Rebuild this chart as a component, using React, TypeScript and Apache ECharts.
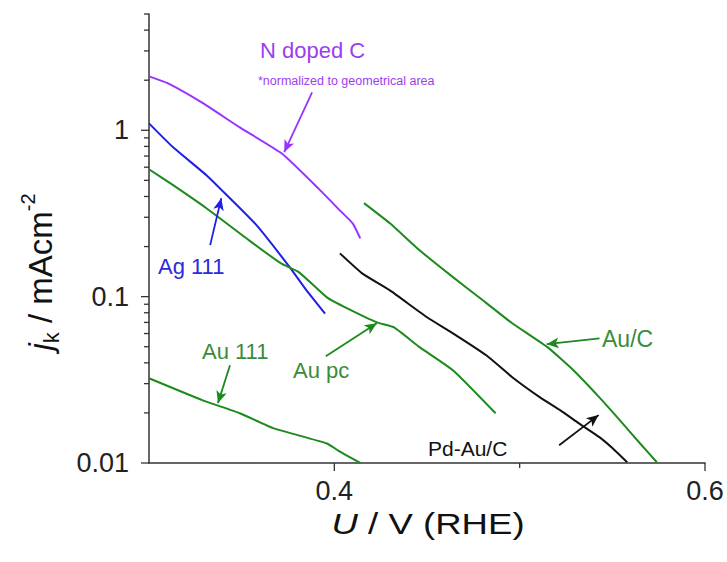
import React, { useEffect, useRef } from "react";
import * as echarts from "echarts";

// ---- axis ranges and ticks ----
const X_MIN = 0.3;
const X_MAX = 0.6;
const X_INTERVAL = 0.1;
const X_MAJOR_TICKS = [0.4, 0.6];
const X_TICK_LABELS = ["0.4", "0.6"];
const X_MINOR_TICKS = [0.5];

const Y_MIN = 0.01;
const Y_MAX = 5;
const Y_MAJOR_TICKS = [0.01, 0.1, 1];
const Y_TICK_LABELS = ["0.01", "0.1", "1"];
const Y_MINOR_TICKS = [
  0.02, 0.03, 0.04, 0.05, 0.06, 0.07, 0.08, 0.09,
  0.2, 0.3, 0.4, 0.5, 0.6, 0.7, 0.8, 0.9,
  2, 3, 4, 5,
];

// ---- series (U / V vs RHE, jk / mA cm^-2) ----
const N_DOPED_C_U = [0.3, 0.31, 0.328, 0.349, 0.372, 0.392, 0.403, 0.41, 0.414];
const N_DOPED_C_J = [2.11, 1.92, 1.48, 1.04, 0.72, 0.44, 0.33, 0.275, 0.224];

const AG111_U = [0.3, 0.313, 0.331, 0.342, 0.358, 0.376, 0.385, 0.395];
const AG111_J = [1.1, 0.79, 0.537, 0.407, 0.269, 0.15, 0.109, 0.079];

const AUPC_U = [0.3, 0.313, 0.331, 0.354, 0.371, 0.381, 0.396, 0.407, 0.423, 0.432, 0.446, 0.464, 0.487];
const AUPC_J = [0.583, 0.468, 0.34, 0.218, 0.159, 0.14, 0.099, 0.085, 0.07, 0.0655, 0.0497, 0.0361, 0.0199];

const AU111_U = [0.3, 0.329, 0.349, 0.367, 0.396, 0.403, 0.414];
const AU111_J = [0.0323, 0.0238, 0.0199, 0.0162, 0.0131, 0.0117, 0.01];

const PDAUC_U = [0.403, 0.415, 0.43, 0.45, 0.464, 0.482, 0.496, 0.511, 0.522, 0.532, 0.543, 0.55, 0.558];
const PDAUC_J = [0.182, 0.138, 0.109, 0.0752, 0.0602, 0.0444, 0.0328, 0.0248, 0.0207, 0.0173, 0.0143, 0.0123, 0.0101];

const AUC_U = [0.416, 0.43, 0.446, 0.464, 0.478, 0.496, 0.515, 0.529, 0.543, 0.554, 0.565, 0.574];
const AUC_J = [0.365, 0.276, 0.19, 0.131, 0.0992, 0.0692, 0.0497, 0.0361, 0.0248, 0.0181, 0.0131, 0.0101];

// ---- annotation arrows: [start, tip] in data coordinates ----
const ARROW_N_DOPED_C = [[0.388, 1.69], [0.373, 0.74]];
const ARROW_AG111 = [[0.333, 0.204], [0.339, 0.39]];
const ARROW_AU111 = [[0.3437, 0.0387], [0.3372, 0.0229]];
const ARROW_AUPC = [[0.3954, 0.0438], [0.4229, 0.0692]];
const ARROW_AUC = [[0.5431, 0.0562], [0.5146, 0.0518]];
const ARROW_PDAUC = [[0.5213, 0.01277], [0.5426, 0.0194]];

// ---- styles ----
const FONT = "'Liberation Sans', Arial, sans-serif";
const PURPLE = "#9933ff";
const PURPLE_TEXT = "#9a3ef0";
const BLUE = "#1f1fe6";
const BLUE_TEXT = "#2b2bd9";
const GREEN = "#1d8a1d";
const GREEN_TEXT = "#3a8c3a";
const BLACK = "#111111";
const AXIS = "#333333";

const zip = (u: number[], j: number[]) => u.map((v, i) => [v, j[i]]);

const near = (a: number, b: number, log: boolean) =>
  log ? Math.abs(Math.log10(a) - Math.log10(b)) < 1e-6 : Math.abs(a - b) < 1e-6;

function arrow(color: string, pts: number[][]) {
  return {
    silent: true,
    symbol: ["none", "arrow"],
    symbolSize: [8, 12],
    label: { show: false },
    emphasis: { disabled: true },
    lineStyle: { color, width: 1.8, type: "solid" },
    data: [[{ coord: pts[0] }, { coord: pts[1] }]],
  };
}

function curve(name: string, color: string, data: number[][], arr: number[][]) {
  return {
    name,
    type: "line",
    data,
    showSymbol: false,
    smooth: 0.15,
    lineStyle: { color, width: 2 },
    itemStyle: { color },
    emphasis: { disabled: true },
    silent: true,
    z: 3,
    markLine: arrow(color, arr),
  };
}

function label(text: string, x: number, y: number, fill: string, size: number) {
  return {
    type: "text",
    x,
    y,
    silent: true,
    style: {
      text,
      fill,
      font: `${size}px ${FONT}`,
      align: "left",
      verticalAlign: "middle",
    },
  };
}

export default function App() {
  const ref = useRef<HTMLDivElement>(null);

  useEffect(() => {
    if (!ref.current) return;
    const chart = echarts.init(ref.current, null, { renderer: "svg" });

    const option: any = {
      animation: false,
      backgroundColor: "#ffffff",
      grid: { left: 149, right: 22, top: 14, bottom: 99, containLabel: false },
      xAxis: {
        type: "value",
        min: X_MIN,
        max: X_MAX,
        interval: X_INTERVAL,
        axisLine: { show: true, lineStyle: { color: AXIS, width: 1.5 } },
        axisTick: { show: false },
        splitLine: { show: false },
        axisLabel: {
          margin: 14,
          color: "#222",
          fontSize: 27,
          fontFamily: FONT,
          formatter: (v: number) => {
            const i = X_MAJOR_TICKS.findIndex((t) => near(v, t, false));
            return i >= 0 ? X_TICK_LABELS[i] : "";
          },
        },
      },
      yAxis: {
        type: "log",
        logBase: 10,
        min: Y_MIN,
        max: Y_MAX,
        axisLine: { show: true, lineStyle: { color: AXIS, width: 1.5 } },
        axisTick: { show: false },
        splitLine: { show: false },
        minorTick: { show: false },
        axisLabel: {
          margin: 20,
          color: "#222",
          fontSize: 27,
          fontFamily: FONT,
          showMaxLabel: false,
          formatter: (v: number) => {
            const i = Y_MAJOR_TICKS.findIndex((t) => near(v, t, true));
            return i >= 0 ? Y_TICK_LABELS[i] : "";
          },
        },
      },
      series: [
        {
          type: "custom",
          coordinateSystem: "cartesian2d",
          silent: true,
          clip: false,
          z: 2,
          data: [
            ...Y_MAJOR_TICKS.map((v) => [X_MIN, v, 1, 0]),
            ...Y_MINOR_TICKS.map((v) => [X_MIN, v, 0, 0]),
            ...X_MAJOR_TICKS.map((v) => [v, Y_MIN, 1, 1]),
            ...X_MINOR_TICKS.map((v) => [v, Y_MIN, 0, 1]),
          ],
          renderItem: (_p: any, api: any) => {
            const pt = api.coord([api.value(0), api.value(1)]);
            const major = api.value(2) === 1;
            const isX = api.value(3) === 1;
            const len = major ? 8 : 5;
            const shape = isX
              ? { x1: pt[0], y1: pt[1], x2: pt[0], y2: pt[1] + len }
              : { x1: pt[0] - len, y1: pt[1], x2: pt[0], y2: pt[1] };
            return {
              type: "line",
              shape,
              style: { stroke: AXIS, lineWidth: 1.3 },
            };
          },
        },
        curve("N doped C", PURPLE, zip(N_DOPED_C_U, N_DOPED_C_J), ARROW_N_DOPED_C),
        curve("Ag 111", BLUE, zip(AG111_U, AG111_J), ARROW_AG111),
        curve("Au pc", GREEN, zip(AUPC_U, AUPC_J), ARROW_AUPC),
        curve("Au 111", GREEN, zip(AU111_U, AU111_J), ARROW_AU111),
        curve("Pd-Au/C", BLACK, zip(PDAUC_U, PDAUC_J), ARROW_PDAUC),
        curve("Au/C", GREEN, zip(AUC_U, AUC_J), ARROW_AUC),
      ],
      graphic: [
        label("N doped C", 260, 50, PURPLE_TEXT, 22),
        label("*normalized to geometrical area", 258, 81, PURPLE_TEXT, 12.5),
        label("Ag 111", 158, 266, BLUE_TEXT, 22),
        label("Au 111", 202, 351, GREEN_TEXT, 22),
        label("Au pc", 293, 370, GREEN_TEXT, 22),
        label("Au/C", 602, 339, GREEN_TEXT, 23),
        label("Pd-Au/C", 428, 448, BLACK, 21),
        {
          type: "text",
          x: 428,
          y: 524,
          scaleX: 1.22,
          silent: true,
          style: {
            text: "{u|U} / V (RHE)",
            fill: "#111",
            font: `30px ${FONT}`,
            align: "center",
            verticalAlign: "middle",
            rich: {
              u: { fontStyle: "italic", fontSize: 30, fontFamily: FONT, fill: "#111" },
            },
          },
        },
        {
          type: "text",
          x: 40,
          y: 272,
          rotation: Math.PI / 2,
          silent: true,
          style: {
            text: "{j|j}{k|k}{n| / mAcm}{s|-2}",
            fill: "#111",
            font: `33px ${FONT}`,
            align: "center",
            verticalAlign: "middle",
            rich: {
              j: { fontStyle: "italic", fontSize: 33, fontFamily: FONT, fill: "#111", lineHeight: 44, verticalAlign: "middle" },
              k: { fontSize: 22, fontFamily: FONT, fill: "#111", lineHeight: 44, verticalAlign: "bottom" },
              n: { fontSize: 33, fontFamily: FONT, fill: "#111", lineHeight: 44, verticalAlign: "middle" },
              s: { fontSize: 20, fontFamily: FONT, fill: "#111", lineHeight: 44, verticalAlign: "top" },
            },
          },
        },
      ],
    };

    chart.setOption(option);
    return () => chart.dispose();
  }, []);

  return (
    <div
      ref={ref}
      style={{ position: "fixed", left: 0, top: 0, width: 727, height: 562, background: "#fff" }}
    />
  );
}
